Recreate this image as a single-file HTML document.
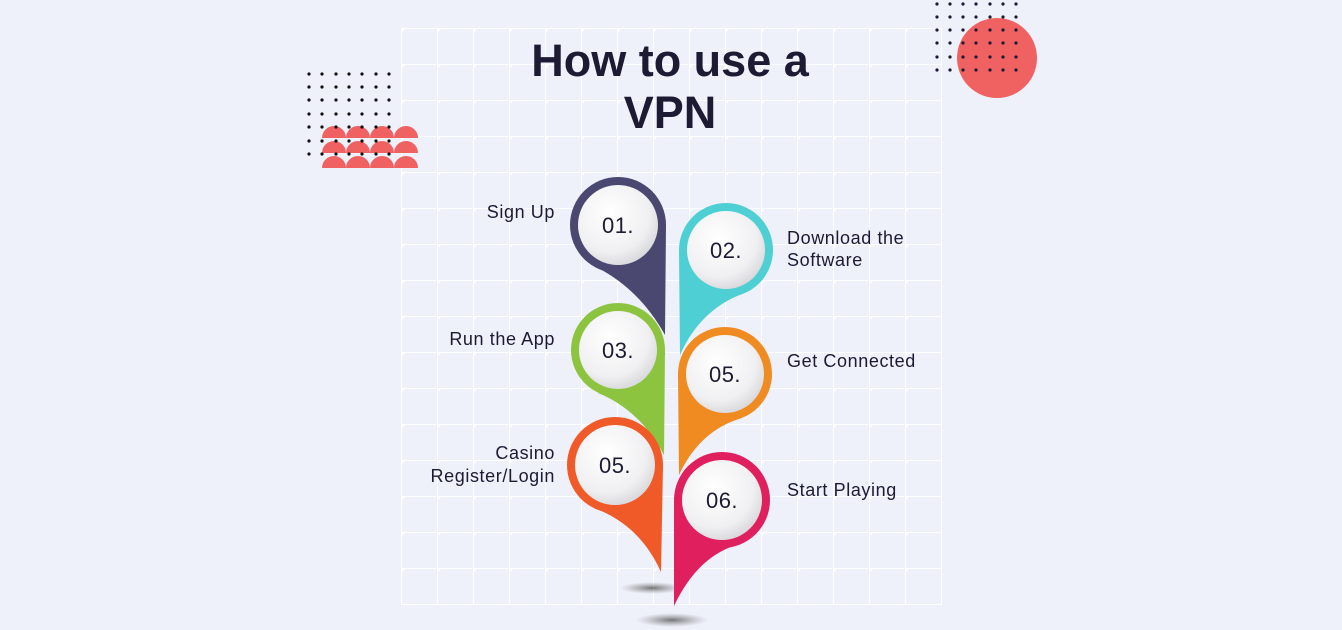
<!DOCTYPE html>
<html><head><meta charset="utf-8"><style>
html,body{margin:0;padding:0;background:#eef0fa;}
svg{display:block}
text{font-family:"Liberation Sans",sans-serif;fill:#1c1b33}
</style></head><body>
<svg width="1342" height="630" viewBox="0 0 1342 630" xmlns="http://www.w3.org/2000/svg">
<defs>
<radialGradient id="wg" cx="40%" cy="35%" r="70%"><stop offset="0" stop-color="#ffffff"/><stop offset="0.7" stop-color="#f0f0f2"/><stop offset="1" stop-color="#d6d6da"/></radialGradient>
<radialGradient id="sh"><stop offset="0" stop-color="#555" stop-opacity="0.8"/><stop offset="1" stop-color="#888" stop-opacity="0"/></radialGradient>
<pattern id="grid" x="401" y="28" width="36" height="36" patternUnits="userSpaceOnUse">
<path d="M0 0H36M0 0V36" stroke="#ffffff" stroke-width="2" fill="none" opacity="0.9"/>
<path d="M0 -5L5 0L0 5L-5 0Z" fill="#fff"/>
</pattern>
</defs>
<rect width="1342" height="630" fill="#eef0fa"/>
<rect x="401" y="28" width="541" height="577" fill="url(#grid)"/>
<g fill="#f06262">
<path d="M322 138a12 12 0 0 1 24 0Z"/><path d="M346 138a12 12 0 0 1 24 0Z"/><path d="M370 138a12 12 0 0 1 24 0Z"/><path d="M394 138a12 12 0 0 1 24 0Z"/>
<path d="M322 153a12 12 0 0 1 24 0Z"/><path d="M346 153a12 12 0 0 1 24 0Z"/><path d="M370 153a12 12 0 0 1 24 0Z"/><path d="M394 153a12 12 0 0 1 24 0Z"/>
<path d="M322 168a12 12 0 0 1 24 0Z"/><path d="M346 168a12 12 0 0 1 24 0Z"/><path d="M370 168a12 12 0 0 1 24 0Z"/><path d="M394 168a12 12 0 0 1 24 0Z"/>
</g>
<g fill="#111">
<circle cx="309" cy="74" r="1.6"/><circle cx="322" cy="74" r="1.6"/><circle cx="336" cy="74" r="1.6"/><circle cx="349" cy="74" r="1.6"/><circle cx="362" cy="74" r="1.6"/><circle cx="376" cy="74" r="1.6"/><circle cx="389" cy="74" r="1.6"/>
<circle cx="309" cy="87" r="1.6"/><circle cx="322" cy="87" r="1.6"/><circle cx="336" cy="87" r="1.6"/><circle cx="349" cy="87" r="1.6"/><circle cx="362" cy="87" r="1.6"/><circle cx="376" cy="87" r="1.6"/><circle cx="389" cy="87" r="1.6"/>
<circle cx="309" cy="100" r="1.6"/><circle cx="322" cy="100" r="1.6"/><circle cx="336" cy="100" r="1.6"/><circle cx="349" cy="100" r="1.6"/><circle cx="362" cy="100" r="1.6"/><circle cx="376" cy="100" r="1.6"/><circle cx="389" cy="100" r="1.6"/>
<circle cx="309" cy="114" r="1.6"/><circle cx="322" cy="114" r="1.6"/><circle cx="336" cy="114" r="1.6"/><circle cx="349" cy="114" r="1.6"/><circle cx="362" cy="114" r="1.6"/><circle cx="376" cy="114" r="1.6"/><circle cx="389" cy="114" r="1.6"/>
<circle cx="309" cy="127" r="1.6"/><circle cx="322" cy="127" r="1.6"/><circle cx="336" cy="127" r="1.6"/><circle cx="349" cy="127" r="1.6"/><circle cx="362" cy="127" r="1.6"/><circle cx="376" cy="127" r="1.6"/><circle cx="389" cy="127" r="1.6"/>
<circle cx="309" cy="141" r="1.6"/><circle cx="322" cy="141" r="1.6"/><circle cx="336" cy="141" r="1.6"/><circle cx="349" cy="141" r="1.6"/><circle cx="362" cy="141" r="1.6"/><circle cx="376" cy="141" r="1.6"/><circle cx="389" cy="141" r="1.6"/>
<circle cx="309" cy="154" r="1.6"/><circle cx="322" cy="154" r="1.6"/><circle cx="336" cy="154" r="1.6"/><circle cx="349" cy="154" r="1.6"/><circle cx="362" cy="154" r="1.6"/><circle cx="376" cy="154" r="1.6"/><circle cx="389" cy="154" r="1.6"/>
</g>
<circle cx="997" cy="58" r="40" fill="#f06262"/>
<g fill="#1c1b33">
<circle cx="937" cy="4" r="1.6"/><circle cx="950" cy="4" r="1.6"/><circle cx="963" cy="4" r="1.6"/><circle cx="976" cy="4" r="1.6"/><circle cx="990" cy="4" r="1.6"/><circle cx="1003" cy="4" r="1.6"/><circle cx="1016" cy="4" r="1.6"/>
<circle cx="937" cy="17" r="1.6"/><circle cx="950" cy="17" r="1.6"/><circle cx="963" cy="17" r="1.6"/><circle cx="976" cy="17" r="1.6"/><circle cx="990" cy="17" r="1.6"/><circle cx="1003" cy="17" r="1.6"/><circle cx="1016" cy="17" r="1.6"/>
<circle cx="937" cy="30" r="1.6"/><circle cx="950" cy="30" r="1.6"/><circle cx="963" cy="30" r="1.6"/><circle cx="976" cy="30" r="1.6"/><circle cx="990" cy="30" r="1.6"/><circle cx="1003" cy="30" r="1.6"/><circle cx="1016" cy="30" r="1.6"/>
<circle cx="937" cy="43" r="1.6"/><circle cx="950" cy="43" r="1.6"/><circle cx="963" cy="43" r="1.6"/><circle cx="976" cy="43" r="1.6"/><circle cx="990" cy="43" r="1.6"/><circle cx="1003" cy="43" r="1.6"/><circle cx="1016" cy="43" r="1.6"/>
<circle cx="937" cy="57" r="1.6"/><circle cx="950" cy="57" r="1.6"/><circle cx="963" cy="57" r="1.6"/><circle cx="976" cy="57" r="1.6"/><circle cx="990" cy="57" r="1.6"/><circle cx="1003" cy="57" r="1.6"/><circle cx="1016" cy="57" r="1.6"/>
<circle cx="937" cy="70" r="1.6"/><circle cx="950" cy="70" r="1.6"/><circle cx="963" cy="70" r="1.6"/><circle cx="976" cy="70" r="1.6"/><circle cx="990" cy="70" r="1.6"/><circle cx="1003" cy="70" r="1.6"/><circle cx="1016" cy="70" r="1.6"/>
</g>
<text x="670" y="76" text-anchor="middle" font-size="45" font-weight="bold">How to use a</text>
<text x="670" y="128" text-anchor="middle" font-size="45" font-weight="bold">VPN</text>
<ellipse cx="652" cy="588" rx="32" ry="6" fill="url(#sh)"/>
<ellipse cx="672" cy="620" rx="36" ry="7" fill="url(#sh)"/>
<g>
<path d="M666 225 L665 335 Q640 290 598 268 Z" fill="#4a4870"/>
<circle cx="618" cy="225" r="48" fill="#4a4870"/><circle cx="618" cy="225" r="40" fill="url(#wg)"/>
<path d="M679 250 L680 355 Q700 310 742 294 Z" fill="#4ecfd3"/>
<circle cx="726" cy="250" r="47" fill="#4ecfd3"/><circle cx="726" cy="250" r="39" fill="url(#wg)"/>
<path d="M665 350 L664 455 Q640 410 598 393 Z" fill="#8cc43f"/>
<circle cx="618" cy="350" r="47" fill="#8cc43f"/><circle cx="618" cy="350" r="39" fill="url(#wg)"/>
<path d="M678 374 L679 475 Q700 430 742 418 Z" fill="#f08b22"/>
<circle cx="725" cy="374" r="47" fill="#f08b22"/><circle cx="725" cy="374" r="39" fill="url(#wg)"/>
<path d="M663 465 L661 572 Q640 525 594 508 Z" fill="#f05a28"/>
<circle cx="615" cy="465" r="48" fill="#f05a28"/><circle cx="615" cy="465" r="40" fill="url(#wg)"/>
<path d="M674 500 L674 606 Q698 555 740 544 Z" fill="#e0205e"/>
<circle cx="722" cy="500" r="48" fill="#e0205e"/><circle cx="722" cy="500" r="40" fill="url(#wg)"/>
</g>
<g font-size="22" letter-spacing="0.5">
<text x="618" y="233" text-anchor="middle">01.</text>
<text x="726" y="258" text-anchor="middle">02.</text>
<text x="618" y="358" text-anchor="middle">03.</text>
<text x="725" y="382" text-anchor="middle">05.</text>
<text x="615" y="473" text-anchor="middle">05.</text>
<text x="722" y="508" text-anchor="middle">06.</text>
</g>
<g font-size="18" letter-spacing="0.6">
<text x="555" y="218" text-anchor="end">Sign Up</text>
<text x="787" y="244">Download the</text>
<text x="787" y="266">Software</text>
<text x="555" y="345" text-anchor="end">Run the App</text>
<text x="787" y="367">Get Connected</text>
<text x="555" y="459" text-anchor="end">Casino</text>
<text x="555" y="482" text-anchor="end">Register/Login</text>
<text x="787" y="496">Start Playing</text>
</g>
</svg>
</body></html>
